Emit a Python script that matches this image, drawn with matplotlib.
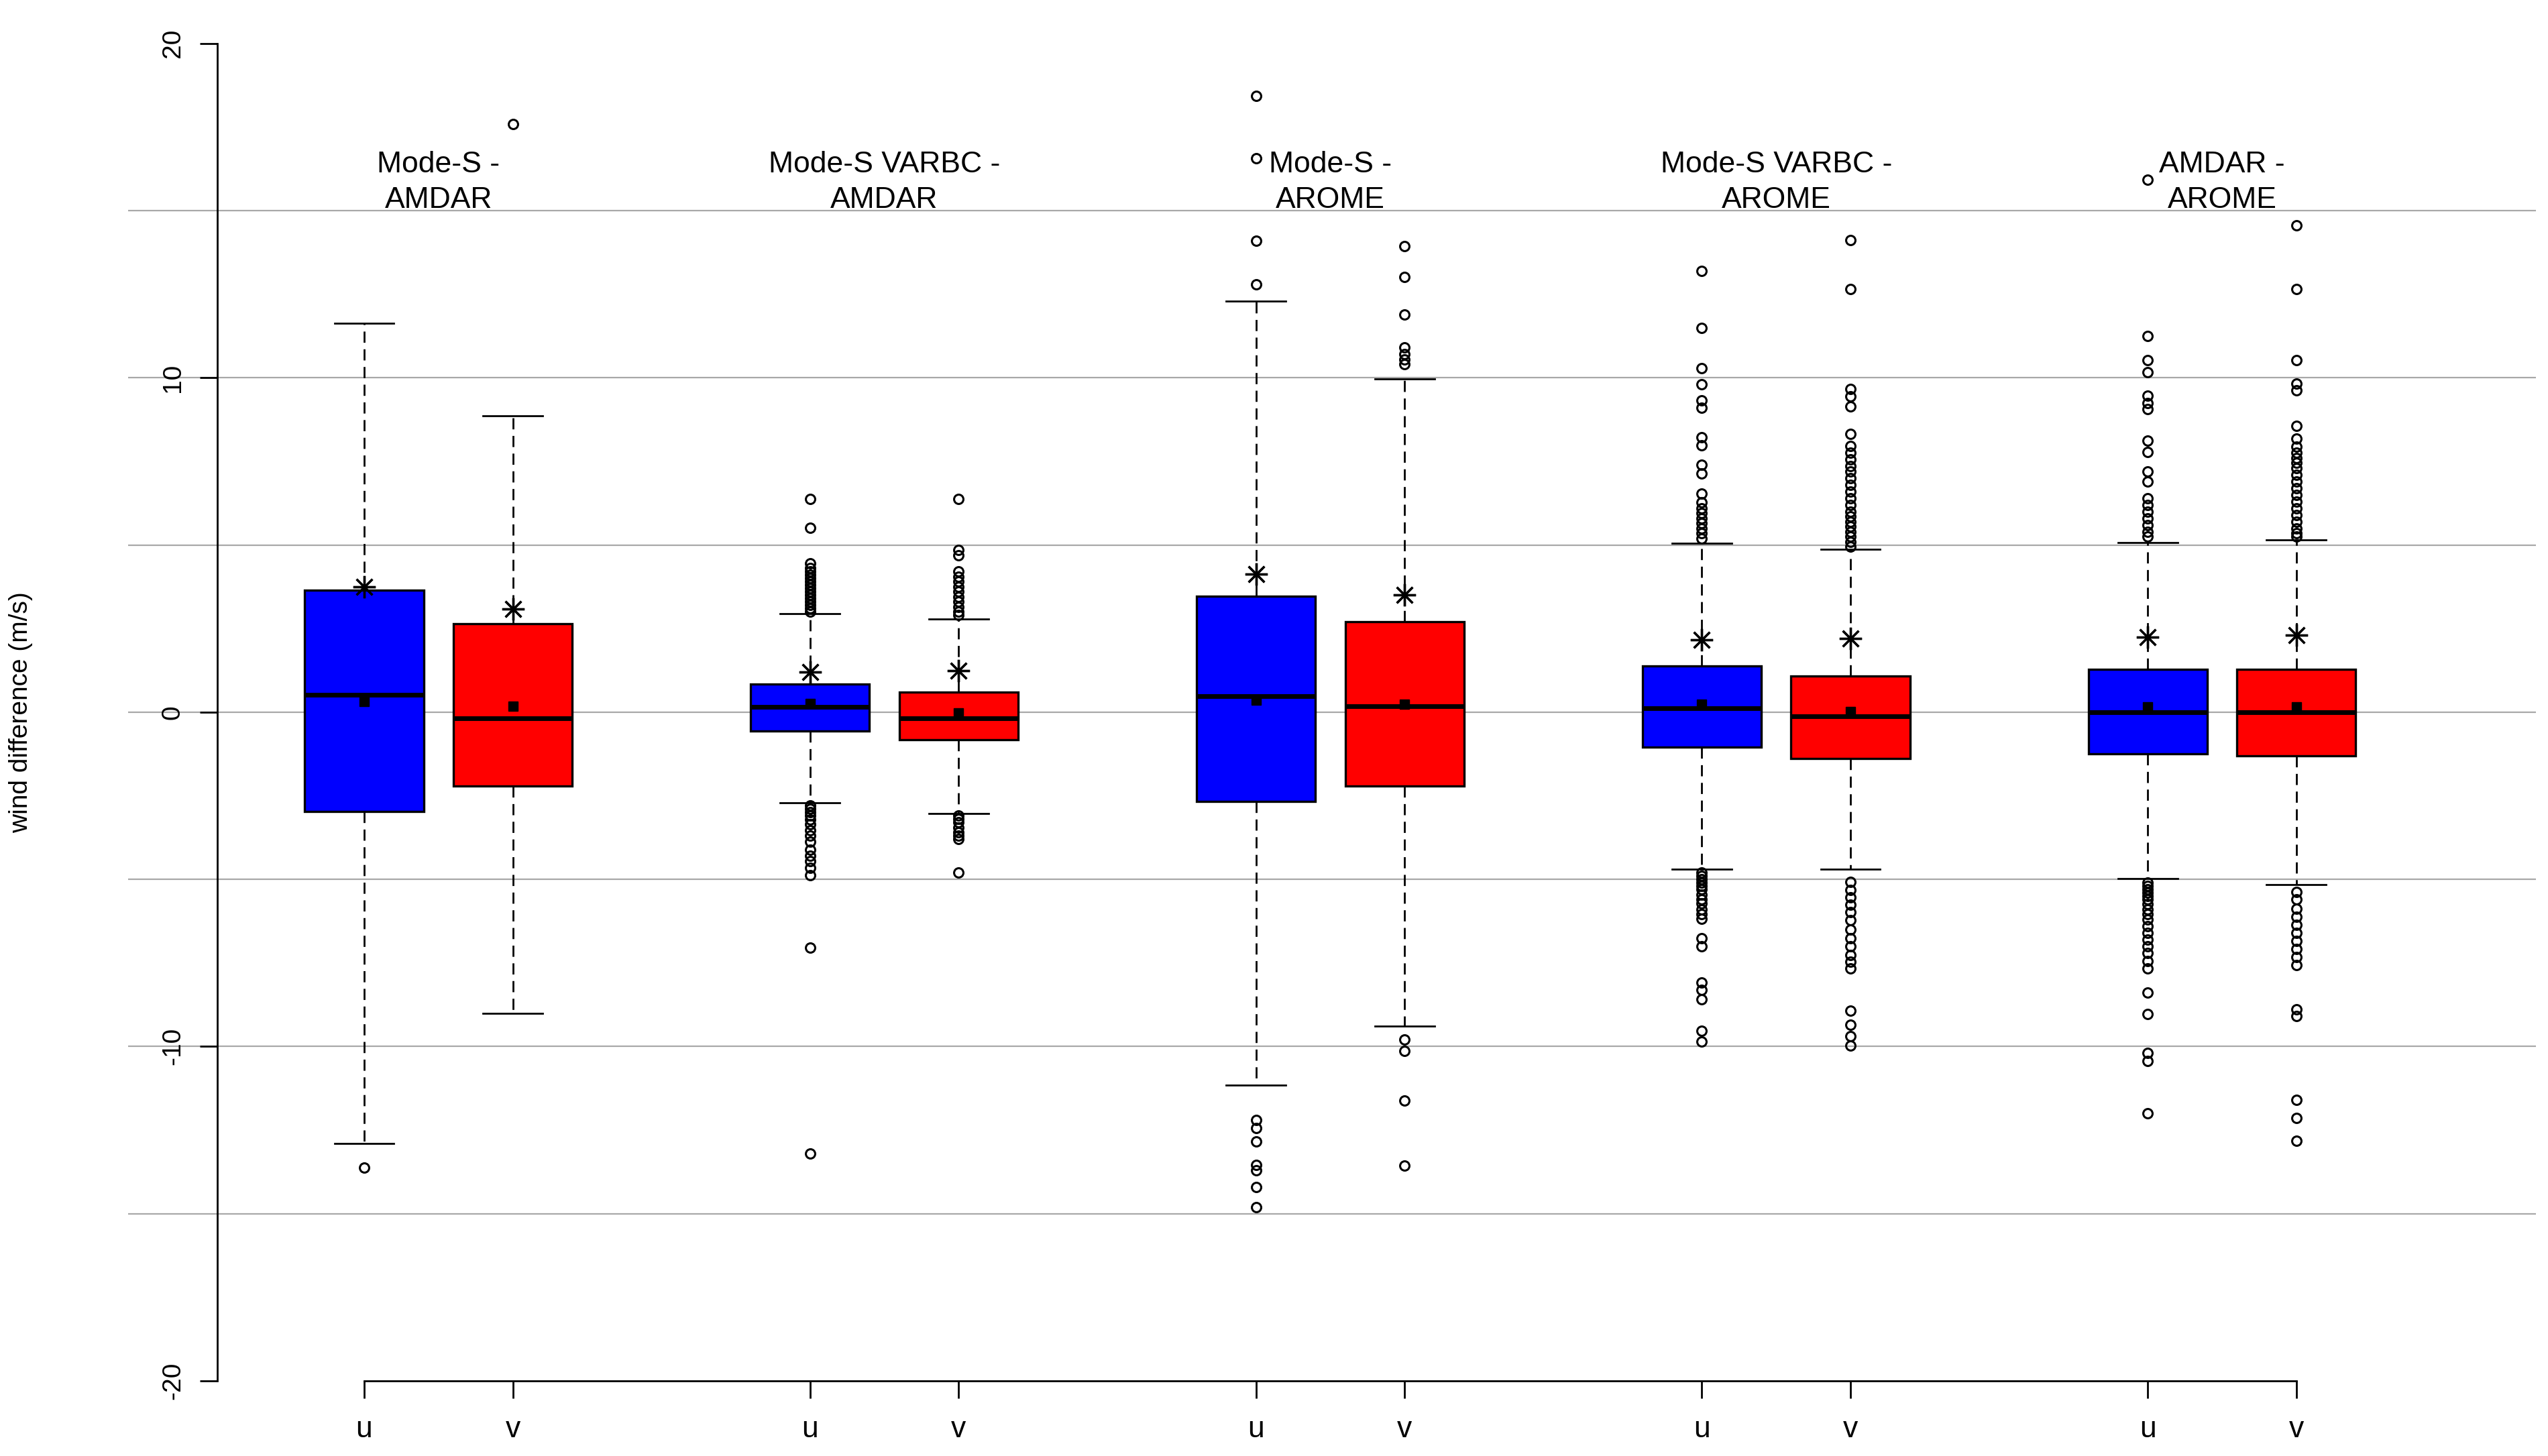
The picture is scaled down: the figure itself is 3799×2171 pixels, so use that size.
import matplotlib
matplotlib.use("Agg")
import matplotlib.pyplot as plt

plt.rcParams['font.family'] = ['Liberation Sans', 'DejaVu Sans']

# ---------------- data ----------------
group_titles = ["Mode-S -\nAMDAR", "Mode-S VARBC -\nAMDAR", "Mode-S -\nAROME",
                "Mode-S VARBC -\nAROME", "AMDAR -\nAROME"]
component_labels = ["u", "v"]

# order: g1u, g1v, g2u, g2v, g3u, g3v, g4u, g4v, g5u, g5v
whisker_low = [-12.91, -9.01, -2.71, -3.04, -11.15, -9.39, -4.70, -4.70, -4.97, -5.15]
quartile_1 = [-2.98, -2.22, -0.57, -0.83, -2.67, -2.21, -1.04, -1.38, -1.25, -1.31]
median = [0.52, -0.18, 0.15, -0.18, 0.48, 0.17, 0.12, -0.12, 0.0, 0.0]
quartile_3 = [3.64, 2.65, 0.83, 0.60, 3.47, 2.70, 1.39, 1.07, 1.29, 1.29]
whisker_high = [11.63, 8.86, 2.95, 2.78, 12.3, 9.96, 5.06, 4.87, 5.07, 5.16]
mean_values = [0.31, 0.17, 0.25, -0.02, 0.35, 0.23, 0.23, 0.02, 0.15, 0.15]
star_values = [3.75, 3.09, 1.21, 1.25, 4.12, 3.50, 2.16, 2.21, 2.25, 2.31]

outliers = [
    [-13.63],
    [17.58],
    [6.37, 5.51, 4.44, 4.3, 4.2, 4.1, 4.0, 3.9, 3.8, 3.7, 3.6, 3.5, 3.4, 3.3, 3.2, 3.1, 3.0,
     -2.8, -2.9, -3.0, -3.1, -3.21, -3.35, -3.54, -3.7, -3.87, -4.12, -4.3, -4.46, -4.65,
     -4.87, -7.05, -13.2],
    [6.37, 4.86, 4.7, 4.2, 4.05, 3.9, 3.75, 3.6, 3.45, 3.3, 3.15, 3.0, 2.9,
     -3.1, -3.2, -3.3, -3.45, -3.6, -3.7, -3.79, -4.79],
    [18.44, 16.56, 14.09, 12.8,
     -12.21, -12.44, -12.85, -13.54, -13.71, -14.2, -14.8],
    [13.94, 13.02, 11.9, 10.9, 10.7, 10.55, 10.4,
     -9.79, -10.14, -11.61, -13.57],
    [13.19, 11.49, 10.28, 9.81, 9.33, 9.1, 8.22, 7.99, 7.4, 7.14, 6.53, 6.27, 6.1, 5.95,
     5.8, 5.65, 5.5, 5.35, 5.2,
     -4.8, -4.9, -5.0, -5.1, -5.2, -5.3, -5.46, -5.6, -5.72, -5.9, -6.05, -6.18, -6.76,
     -7.0, -8.08, -8.3, -8.58, -9.53, -9.86],
    [14.11, 12.66, 9.66, 9.45, 9.15, 8.32, 7.97, 7.75, 7.55, 7.35, 7.2, 7.0, 6.8, 6.6,
     6.4, 6.2, 6.0, 5.85, 5.7, 5.55, 5.4, 5.25, 5.1, 4.95,
     -5.07, -5.31, -5.55, -5.77, -5.98, -6.22, -6.51, -6.76, -7.01, -7.26, -7.47, -7.67,
     -8.93, -9.36, -9.69, -9.98],
    [15.92, 11.25, 10.52, 10.17, 9.46, 9.25, 9.06, 8.12, 7.77, 7.2, 6.9, 6.4, 6.2, 6.0,
     5.8, 5.6, 5.4, 5.25,
     -5.1, -5.2, -5.3, -5.4, -5.5, -5.6, -5.75, -5.9, -6.05, -6.2, -6.4, -6.6, -6.8,
     -7.0, -7.2, -7.45, -7.66, -8.38, -9.03, -10.19, -10.43, -12.0],
    [14.56, 12.66, 10.52, 9.83, 9.63, 8.57, 8.19, 7.95, 7.75, 7.6, 7.45, 7.3, 7.1, 6.9,
     6.7, 6.5, 6.3, 6.1, 5.9, 5.7, 5.5, 5.35, 5.25,
     -5.37, -5.61, -5.89, -6.13, -6.37, -6.61, -6.85, -7.09, -7.33, -7.57, -8.9, -9.09,
     -11.6, -12.13, -12.82],
]

box_colors = ["#0000FF", "#FF0000"]
grid_levels = [-15, -10, -5, 0, 5, 10, 15]
y_ticks = [-20, -10, 0, 10, 20]

# ---------------- figure ----------------
fig = plt.figure(figsize=(37.99, 21.71), dpi=100)
ax = fig.add_axes([0, 0, 1, 1])
ax.set_xlim(-1.450, 15.693)
ax.set_ylim(-22.25, 21.30)

positions = []
for g in range(len(group_titles)):
    positions += [3 * g + 1, 3 * g + 2]

# grid lines
ax.hlines(grid_levels, -0.588, 15.61, colors="#A8A8A8", linewidth=1.6, zorder=0.5)

stats = []
for k in range(len(positions)):
    stats.append(dict(whislo=whisker_low[k], q1=quartile_1[k], med=median[k],
                      q3=quartile_3[k], whishi=whisker_high[k], mean=mean_values[k],
                      fliers=outliers[k], label=component_labels[k % 2]))

bp = ax.bxp(stats, positions=positions, widths=0.8, patch_artist=True,
            showmeans=True, manage_ticks=False,
            boxprops=dict(edgecolor="black", linewidth=2.4),
            medianprops=dict(color="black", linewidth=5),
            whiskerprops=dict(color="black", linewidth=2, linestyle=(0, (6, 3.5))),
            capprops=dict(color="black", linewidth=2),
            meanprops=dict(marker="s", markerfacecolor="black", markeredgecolor="black",
                           markersize=10),
            flierprops=dict(marker="o", markerfacecolor="none", markeredgecolor="black",
                            markersize=10, markeredgewidth=2.2))
for k, patch in enumerate(bp["boxes"]):
    patch.set_facecolor(box_colors[k % 2])

# asterisks
ax.plot(positions, star_values, linestyle="none", marker=(8, 2, 0), markersize=24,
        markeredgewidth=2.4, color="black", zorder=4)

# group titles
for g, title in enumerate(group_titles):
    ax.text(3 * g + 1.5, 15.85, title, ha="center", va="center", fontsize=32,
            linespacing=1.38)

# axes styling
for s in ["top", "right"]:
    ax.spines[s].set_visible(False)
ax.spines["left"].set_position(("data", 0.012))
ax.spines["left"].set_bounds(-20, 20)
ax.spines["left"].set_linewidth(2)
ax.spines["bottom"].set_position(("data", -20))
ax.spines["bottom"].set_bounds(positions[0], positions[-1])
ax.spines["bottom"].set_linewidth(2)

ax.set_xticks(positions)
ax.set_xticklabels([component_labels[k % 2] for k in range(len(positions))])
ax.tick_params(axis="x", length=18.7, width=2, pad=19, labelsize=32)
ax.set_yticks(y_ticks)
ax.set_yticklabels([str(t) for t in y_ticks])
ax.tick_params(axis="y", length=18.7, width=2, pad=16, labelsize=28)
for lbl in ax.get_yticklabels():
    lbl.set_rotation(90)
    lbl.set_va("center")

ax.text(-1.31, 0, "wind difference (m/s)", rotation=90, ha="center", va="center",
        fontsize=28)

fig.savefig("out.png", dpi=100, facecolor="white")
